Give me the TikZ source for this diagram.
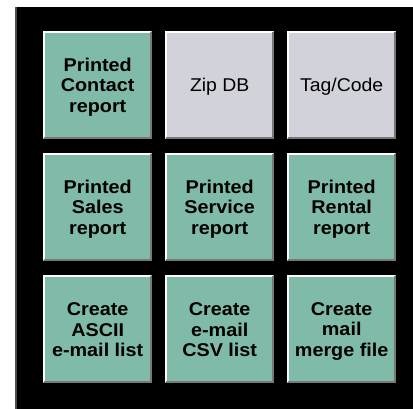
\documentclass[tikz,border=0pt]{standalone}
\usepackage{fontspec}
\setmainfont{Liberation Sans}
\newfontfamily\btnbold[FakeStretch=1.07]{Liberation Sans Bold}
\newfontfamily\btnreg[FakeStretch=1.05]{Liberation Sans}
\newcommand{\ts}{\rule{0pt}{17pt}}
\newcommand{\bs}{\rule[-3pt]{0pt}{3pt}}
\definecolor{teal1}{RGB}{128,186,168}
\definecolor{gray1}{RGB}{210,210,218}
\definecolor{shadow}{RGB}{120,120,120}
\definecolor{edge}{RGB}{70,80,78}
\tikzset{
  btn/.style={minimum width=109pt,minimum height=108pt,inner sep=0pt,align=center,anchor=north west,
    font=\fontsize{18.5}{20.5}\selectfont\btnbold, text=black},
  teal/.style={btn,fill=teal1},
  grey/.style={btn,fill=gray1,font=\fontsize{18.5}{20.5}\selectfont\btnreg},
}
\newcommand{\bevel}[1]{%
  \draw[white,line width=2pt] ([xshift=1pt,yshift=1pt]#1.south west) -- ([xshift=1pt,yshift=-1pt]#1.north west) -- ([xshift=-1pt,yshift=-1pt]#1.north east);
  \draw[shadow,line width=2pt] ([xshift=1pt,yshift=1pt]#1.south west) -- ([xshift=-1pt,yshift=1pt]#1.south east) -- ([xshift=-1pt,yshift=-1pt]#1.north east);
}
\begin{document}
\begin{tikzpicture}[x=1pt,y=-1pt]
\useasboundingbox (0,0) rectangle (413,409);
\fill[white] (0,0) rectangle (413,409);
\fill[black] (15,7) rectangle (413,409);
\fill[edge] (15,7) rectangle (17,409);
\node[teal] (b11) at (43,31) {\ts Printed\\Contact\\report\bs};
\node[grey] (b12) at (165,31) {\ts Zip DB\bs};
\node[grey] (b13) at (287,31) {\ts Tag/Code\bs};
\node[teal] (b21) at (43,153) {\ts Printed\\Sales\\report\bs};
\node[teal] (b22) at (165,153) {\ts Printed\\Service\\report\bs};
\node[teal] (b23) at (287,153) {\ts Printed\\Rental\\report\bs};
\node[teal] (b31) at (43,275) {\ts Create\\ASCII\\e-mail list\bs};
\node[teal] (b32) at (165,275) {\ts Create\\e-mail\\CSV list\bs};
\node[teal] (b33) at (287,275) {\ts Create\\mail\\merge file\bs};
\foreach \n in {b11,b12,b13,b21,b22,b23,b31,b32,b33}{\bevel{\n}}
\end{tikzpicture}
\end{document}
